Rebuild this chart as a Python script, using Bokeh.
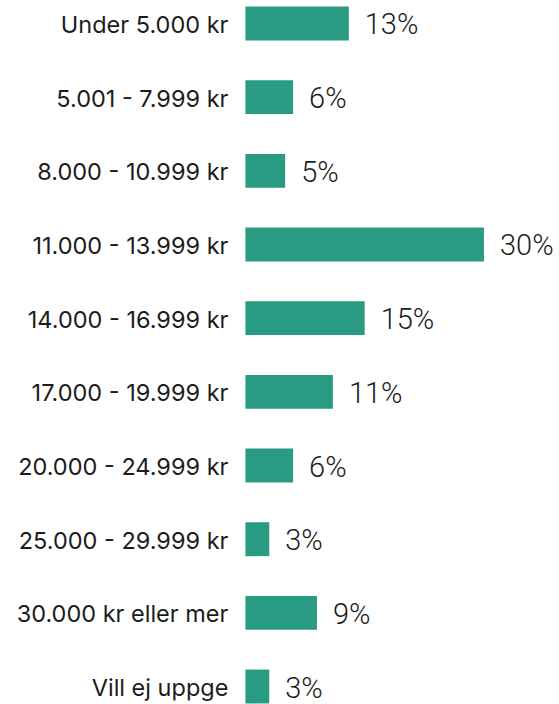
from bokeh.plotting import figure
from bokeh.models import ColumnDataSource, Range1d
from bokeh.core.properties import value
from bokeh.embed import file_html
from bokeh.resources import INLINE

categories = [
    "Under 5.000 kr",
    "5.001 - 7.999 kr",
    "8.000 - 10.999 kr",
    "11.000 - 13.999 kr",
    "14.000 - 16.999 kr",
    "17.000 - 19.999 kr",
    "20.000 - 24.999 kr",
    "25.000 - 29.999 kr",
    "30.000 kr eller mer",
    "Vill ej uppge",
]
values = [13, 6, 5, 30, 15, 11, 6, 3, 9, 3]
value_labels = [f"{v}%" for v in values]

positions = list(range(len(categories)))

source = ColumnDataSource(dict(
    y=positions,
    cat=categories,
    val=values,
    lab=value_labels,
    zero=[0] * len(values),
))

p = figure(
    width=559, height=704,
    x_range=Range1d(-30.8, 39.5),
    y_range=Range1d(9.244, -0.312),
    output_backend="svg",
    toolbar_location=None,
    min_border=0,
)
p.axis.visible = False
p.grid.visible = False
p.outline_line_color = None
p.background_fill_color = "white"
p.border_fill_color = "white"

p.hbar(y="y", left=0, right="val", height=0.46, source=source,
       fill_color="#2a9b83", line_color=None)

p.text(x="zero", y="y", text="cat", source=source,
       text_align="right", text_baseline="middle",
       x_offset=-17, y_offset=1,
       text_font=value("Inter"), text_font_size="23.5px",
       text_color="#1c1c1c")

p.text(x="val", y="y", text="lab", source=source,
       text_align="left", text_baseline="middle",
       x_offset=16, y_offset=1,
       text_font=value("Roboto Light, Roboto"), text_font_size="29px",
       text_color="#1c1c1c")

open("out.html", "w").write(file_html(p, INLINE))
